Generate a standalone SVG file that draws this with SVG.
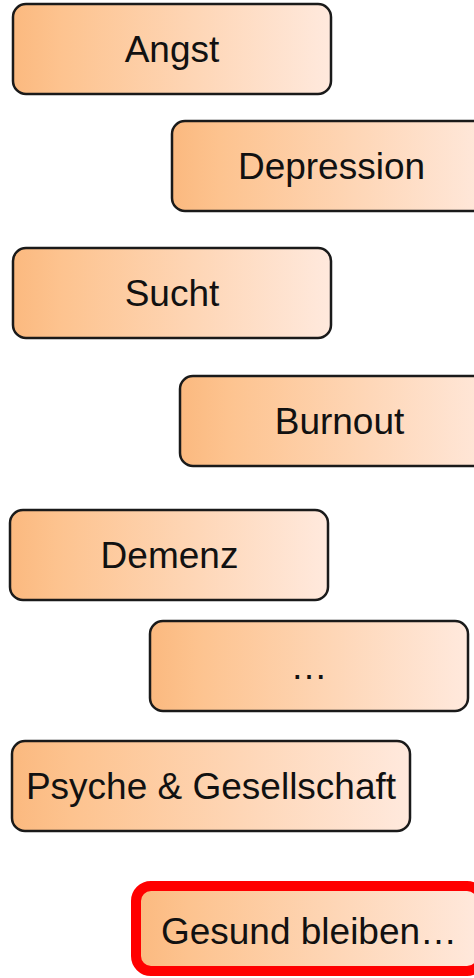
<svg xmlns="http://www.w3.org/2000/svg" width="474" height="978" viewBox="0 0 474 978">
<defs>
<linearGradient id="g" x1="0" y1="0" x2="1" y2="0">
<stop offset="0" stop-color="#fbb97f"/>
<stop offset="0.15" stop-color="#fdc38f"/>
<stop offset="1" stop-color="#ffe9dd"/>
</linearGradient>
<style>
.b{fill:url(#g);stroke:#1a1a1a;stroke-width:2.5}
.r{fill:url(#g);stroke:#ff0000;stroke-width:10}
.t{font-family:"Liberation Sans",Arial,sans-serif;font-size:37px;fill:#111;text-anchor:middle}
</style>
</defs>
<g id="connectors"/>
<g id="angst"><rect class="b" x="13" y="4" width="318" height="90" rx="13"/><text class="t" x="172" y="62">Angst</text></g>
<g id="depression"><rect class="b" x="172" y="121" width="319" height="90" rx="13"/><text class="t" x="331.5" y="179">Depression</text></g>
<g id="sucht"><rect class="b" x="13" y="248" width="318" height="90" rx="13"/><text class="t" x="172" y="306">Sucht</text></g>
<g id="burnout"><rect class="b" x="180" y="376" width="319" height="90" rx="13"/><text class="t" x="339.5" y="434">Burnout</text></g>
<g id="demenz"><rect class="b" x="10" y="510" width="318" height="90" rx="13"/><text class="t" x="169.5" y="568">Demenz</text></g>
<g id="etc"><rect class="b" x="150" y="621" width="318" height="90" rx="13"/><text class="t" x="309" y="679">…</text></g>
<g id="psyche"><rect class="b" x="12" y="741" width="398" height="90" rx="13"/><text class="t" x="211" y="799">Psyche &amp; Gesellschaft</text></g>
<g id="gesund"><rect class="r" x="136" y="886" width="346" height="85" rx="15"/><text class="t" x="309" y="944">Gesund bleiben…</text></g>
</svg>
